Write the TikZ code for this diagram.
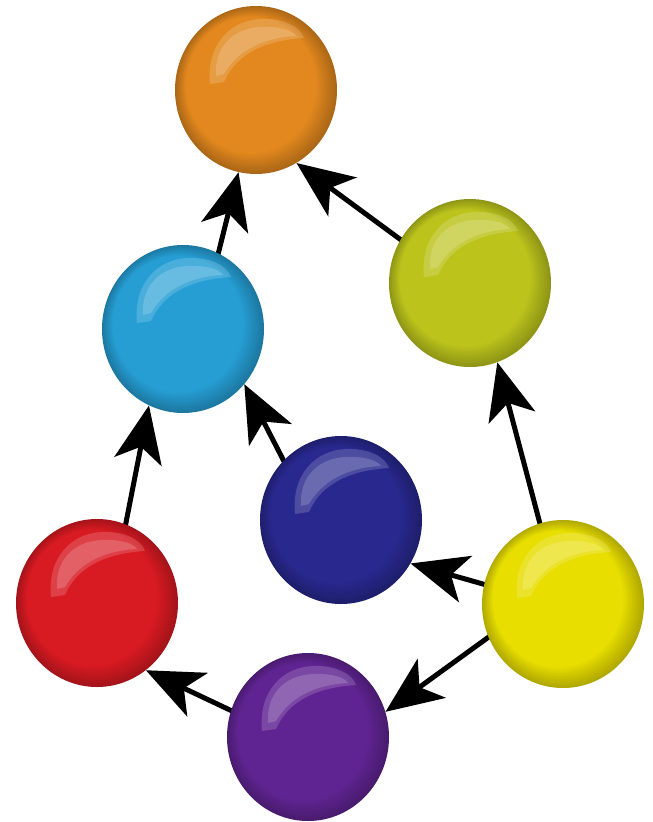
\documentclass[tikz,border=0pt]{standalone}
\usetikzlibrary{arrows.meta,shapes.geometric,backgrounds}
\definecolor{cOrange}{RGB}{226,136,30}
\definecolor{cCyan}{RGB}{38,158,212}
\definecolor{cLime}{RGB}{188,196,28}
\definecolor{cBlue}{RGB}{40,40,142}
\definecolor{cRed}{RGB}{216,26,34}
\definecolor{cYellow}{RGB}{232,222,0}
\definecolor{cPurple}{RGB}{96,36,146}
\tikzset{
  ball/.style={ellipse, minimum width=162pt, minimum height=168pt, inner sep=0pt},
  gloss/.style={white, fill opacity=0.17},
  arr/.style={line width=5pt, black, shorten <=-14pt,
    -{Stealth[length=57pt,width=48pt,inset=15pt]}}
}
\newcommand\ballat[4]{%
  \node[ball] (#1) at (#2,#3) {};
  \begin{scope}[shift={(#1.center)}]
    \foreach \i in {0,...,12}{%
      \pgfmathtruncatemacro\pct{76+2*\i}%
      \pgfmathsetmacro\rx{81-1.3*\i}%
      \pgfmathsetmacro\ry{84-1.3*\i}%
      \pgfmathsetmacro\off{-0.4*\i}%
      \fill[#4!\pct!black] (\off,\off) ellipse [x radius=\rx, y radius=\ry];
    }
    \fill[gloss] (-46,-6) .. controls (-50,-46) and (-25,-70) .. (5,-71)
      .. controls (26,-72) and (44,-64) .. (48,-52)
      .. controls (15,-50) and (-18,-40) .. (-32,-8) -- cycle;
    \fill[gloss] (-40,-14) .. controls (-42,-44) and (-22,-62) .. (5,-63)
      .. controls (22,-64) and (36,-60) .. (40,-54)
      .. controls (15,-53) and (-16,-44) .. (-32,-16) -- cycle;
  \end{scope}}
\begin{document}
\begin{tikzpicture}[x=1pt,y=-1pt]
\useasboundingbox (0,0) rectangle (653,822);
\begin{scope}[on background layer]
  \fill[white] (0,0) rectangle (653,822);
\end{scope}
\ballat{orange}{256}{90}{cOrange}
\ballat{cyan}{183}{329}{cCyan}
\ballat{lime}{470}{283}{cLime}
\ballat{blue}{341}{520}{cBlue}
\ballat{red}{97}{603}{cRed}
\ballat{yellow}{563}{604}{cYellow}
\ballat{purple}{308}{737}{cPurple}
\begin{scope}[on background layer]
  \draw[arr] (cyan.65) -- (orange.258);
  \draw[arr] (lime.148) -- (orange.299);
  \draw[arr] (red.70) -- (cyan.246);
  \draw[arr] (blue.134) -- (cyan.318);
  \draw[arr] (yellow.106) -- (lime.289);
  \draw[arr] (yellow.166) -- (blue.328);
  \draw[arr] (yellow.204) -- (purple.18);
  \draw[arr] (purple.161) -- (red.306);
\end{scope}
\end{tikzpicture}
\end{document}
